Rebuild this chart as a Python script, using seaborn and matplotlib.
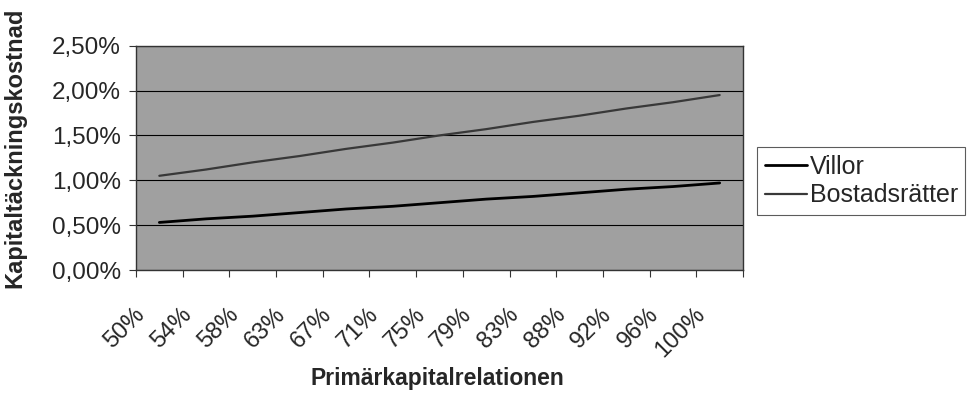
import matplotlib
matplotlib.use("Agg")
import numpy as np
import pandas as pd
import seaborn as sns
import matplotlib.pyplot as plt
import matplotlib.transforms as mtransforms
from matplotlib.ticker import FuncFormatter, MultipleLocator, FixedLocator

# ---- data (values in percent) ----
categories = ["50%", "54%", "58%", "63%", "67%", "71%", "75%", "79%",
              "83%", "88%", "92%", "96%", "100%"]
villor = [0.53, 0.57, 0.60, 0.64, 0.68, 0.71, 0.75, 0.79, 0.82, 0.86, 0.90, 0.93, 0.97]
bostadsratter = [1.05, 1.12, 1.20, 1.27, 1.35, 1.42, 1.50, 1.57, 1.65, 1.72, 1.80, 1.87, 1.95]
series_names = ["Villor", "Bostadsrätter"]
y_label = "Kapitaltäckningskostnad"
x_label = "Primärkapitalrelationen"

sns.set_theme(style="white")
plt.rcParams["font.family"] = ["Liberation Sans", "DejaVu Sans"]

n = len(categories)
df = pd.DataFrame({
    "Kategori": categories * 2,
    "Värde": villor + bostadsratter,
    "Serie": [series_names[0]] * n + [series_names[1]] * n,
})

W, H = 968, 394
fig = plt.figure(figsize=(W / 100, H / 100), dpi=100)
left, right, top, bottom = 136, 743, 45.7, 270
ax = fig.add_axes([left / W, 1 - bottom / H, (right - left) / W, (bottom - top) / H])
ax.set_facecolor("#a0a0a0")

styles = {series_names[0]: ("#000000", 2.0), series_names[1]: ("#383838", 1.6)}
for name in series_names:
    sub = df[df["Serie"] == name]
    c, lw = styles[name]
    sns.lineplot(data=sub, x="Kategori", y="Värde", ax=ax, color=c,
                 linewidth=lw, label=name, sort=False)

ax.set_xlim(-0.5, n - 0.5)
ax.set_ylim(0, 2.5)
ax.yaxis.set_major_locator(MultipleLocator(0.5))
ax.yaxis.set_major_formatter(FuncFormatter(lambda v, _: f"{v:.2f}%".replace(".", ",")))
ax.yaxis.grid(True, color="black", linewidth=0.8)
ax.xaxis.grid(False)
ax.set_axisbelow(True)

# category labels at centres, tick marks at boundaries
ax.xaxis.set_major_locator(FixedLocator(np.arange(n)))
ax.set_xticklabels(categories)
ax.xaxis.set_minor_locator(FixedLocator(np.arange(n + 1) - 0.5))
ax.tick_params(axis="x", which="major", length=0, pad=24, labelsize=17)
ax.tick_params(axis="x", which="minor", length=5, width=0.8, color="#333333", direction="out", bottom=True)
ax.tick_params(axis="y", which="major", length=5, width=0.8, color="#333333", direction="out", left=True, pad=6, labelsize=17.5)
offset = mtransforms.ScaledTranslation(-0.10, 0, fig.dpi_scale_trans)
for lab in ax.get_xticklabels():
    lab.set_rotation(45)
    lab.set_ha("right")
    lab.set_transform(lab.get_transform() + offset)

for s in ax.spines.values():
    s.set_color("#333333")
    s.set_linewidth(1.0)

ax.set_xlabel("")
ax.set_ylabel("")
fig.text(15 / W, 1 - 148 / H, y_label, rotation=90, ha="center", va="center",
         fontsize=17, fontweight="bold")
fig.text(437 / W, 1 - 378 / H, x_label, ha="center", va="center",
         fontsize=16.5, fontweight="bold")

leg = ax.legend(loc="center left", bbox_to_anchor=(757 / W, 1 - 181 / H),
                bbox_transform=fig.transFigure, frameon=True, fancybox=False,
                fontsize=18, handlelength=1.7, handletextpad=0.1,
                borderpad=0.3, labelspacing=0.2, borderaxespad=0)
leg.get_frame().set_edgecolor("#333333")
leg.get_frame().set_linewidth(0.8)

fig.savefig("out.png", dpi=100)
